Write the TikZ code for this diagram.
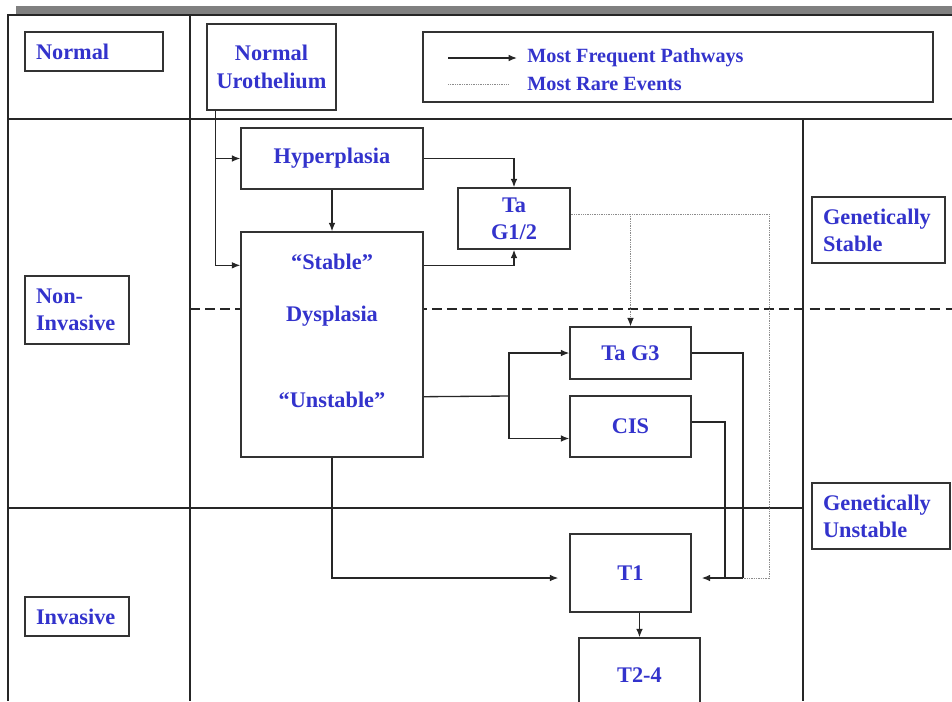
\documentclass[tikz,border=0pt]{standalone}
\usepackage{fontspec}
\setmainfont{Liberation Serif}
\usetikzlibrary{arrows.meta,calc}
\definecolor{labelblue}{RGB}{51,51,204}
\tikzset{
    box/.style = {
        draw = black!80,
        line width = 0.8pt,
        fill = white,
        inner sep = 0pt,
        text = labelblue,
        font = \bfseries\fontsize{12.7}{15.5}\selectfont,
        align = center,
        },
    side/.style = {
        box,
        align = left,
        inner xsep = 0.22cm,
        },
    box text/.style = {
        inner sep = 0pt,
        text = labelblue,
        font = \bfseries\fontsize{12.7}{15.5}\selectfont,
        },
    grid line/.style = {
        draw = black!85,
        line width = 0.8pt,
        },
    frequent/.style = {
        draw = black!85,
        line width = 0.75pt,
        -{Latex[length=4.8pt,width=3.8pt]},
        },
    rare/.style = {
        draw = black!45,
        line width = 0.55pt,
        dash pattern = on 0.5pt off 0.5pt,
        },
    legend text/.style = {
        inner sep = 0pt,
        anchor = west,
        text = labelblue,
        font = \bfseries\fontsize{11.5}{14}\selectfont,
        },
}

\begin{document}
\begin{tikzpicture}[x=0.02cm, y=-0.02cm]
    \useasboundingbox (0,0) rectangle (952,701);

    % frame and regions
    \fill[gray] (16,6) rectangle (952,15);
    \draw[grid line] (952,15) -- (8,15) -- (8,701);
    \draw[grid line] (190,15) -- (190,701);
    \draw[grid line] (8,119) -- (952,119);
    \draw[grid line] (8,508) -- (803,508);
    \draw[grid line] (803,119) -- (803,701);
    \draw[grid line, dash pattern=on 5.7pt off 2.9pt] (190,309) -- (952,309);

    % row and column labels
    \node[side, text width=2.32cm, minimum height=0.78cm] (normal) at (94,51.5) {Normal};
    \node[side, text width=1.64cm, minimum height=1.36cm] (noninv) at (77,310) {Non-\\Invasive};
    \node[side, text width=1.64cm, minimum height=0.78cm] (inv) at (77,616.5) {Invasive};
    \node[side, text width=2.22cm, minimum height=1.32cm] (gstable) at (878.5,230) {Genetically\\Stable};
    \node[side, text width=2.32cm, minimum height=1.32cm] (gunstable) at (881,516) {Genetically\\Unstable};

    % legend
    \node[box, minimum width=10.2cm, minimum height=1.4cm] (legend) at (678,67) {};
    \node[legend text] (keyf) at (527,58) {Most Frequent Pathways};
    \node[legend text] (keyr) at (527,84) {Most Rare Events};
    \draw[frequent] ([xshift=-1.58cm]keyf.west) -- ([xshift=-0.2cm]keyf.west);
    \draw[rare] ([xshift=-1.58cm]keyr.west) -- ([xshift=-0.38cm]keyr.west);

    % stages
    \node[box, minimum width=2.58cm, minimum height=1.72cm] (uro) at (271.5,67) {Normal\\Urothelium};
    \node[box, minimum width=3.64cm, minimum height=1.22cm] (hyper) at (332,158.5) {Hyperplasia};
    \node[box, minimum width=2.24cm, minimum height=1.22cm] (tag12) at (514,218.5) {Ta\\G1/2};
    \node[box, minimum width=3.64cm, minimum height=4.5cm] (dysp) at (332,344.5) {};
    \node[box text] (dstable) at (332,262) {“Stable”};
    \node[box text] (dname) at (332,316) {Dysplasia};
    \node[box text] (dunstable) at (332,400) {“Unstable”};
    \node[box, minimum width=2.42cm, minimum height=1.04cm] (tag3) at (630.5,353) {Ta G3};
    \node[box, minimum width=2.42cm, minimum height=1.22cm] (cis) at (630.5,426.5) {CIS};
    \node[box, minimum width=2.42cm, minimum height=1.56cm] (t1) at (630.5,573) {T1};
    \node[box, minimum width=2.42cm, minimum height=1.48cm] (t24) at (639.5,675) {T2-4};

    % pathways
    \coordinate (split) at (509,396);
    \coordinate (join3) at (743,578);
    \coordinate (joincis) at (725,578);
    \coordinate (joinrare) at (769,578);
    \coordinate (rarestart) at ([yshift=0.09cm]tag12.east);

    \draw[frequent] ([xshift=0.18cm]uro.south west) |- (hyper.west);
    \draw[frequent] ([xshift=0.18cm]uro.south west) |- ([yshift=-0.68cm]dysp.north west);
    \draw[frequent] (hyper.south) -- (dysp.north);
    \draw[frequent] (hyper.east) -| (tag12.north);
    \draw[frequent] ([yshift=-0.68cm]dysp.north east) -| (tag12.south);
    \draw[frequent, -] ([yshift=1.22cm]dysp.south east) -- (split);
    \draw[frequent] (split) |- (tag3.west);
    \draw[frequent] (split) |- ([yshift=-0.24cm]cis.west);
    \draw[frequent, shorten >=0.22cm] (dysp.south) |- (join3 -| t1.west);
    \draw[frequent, -] (tag3.east) -| (join3);
    \draw[frequent, -] ([yshift=0.09cm]cis.east) -| (joincis);
    \draw[rare] (rarestart) -| (joinrare) -- (join3);
    \draw[rare, -{Latex[length=4.8pt,width=3.8pt,color=black!85]}] (rarestart -| tag3.north) -- (tag3.north);
    \draw[frequent, shorten >=0.2cm] (join3) -- (join3 -| t1.east);
    \draw[frequent] (t1.south -| t24.north) -- (t24.north);
\end{tikzpicture}
\end{document}
